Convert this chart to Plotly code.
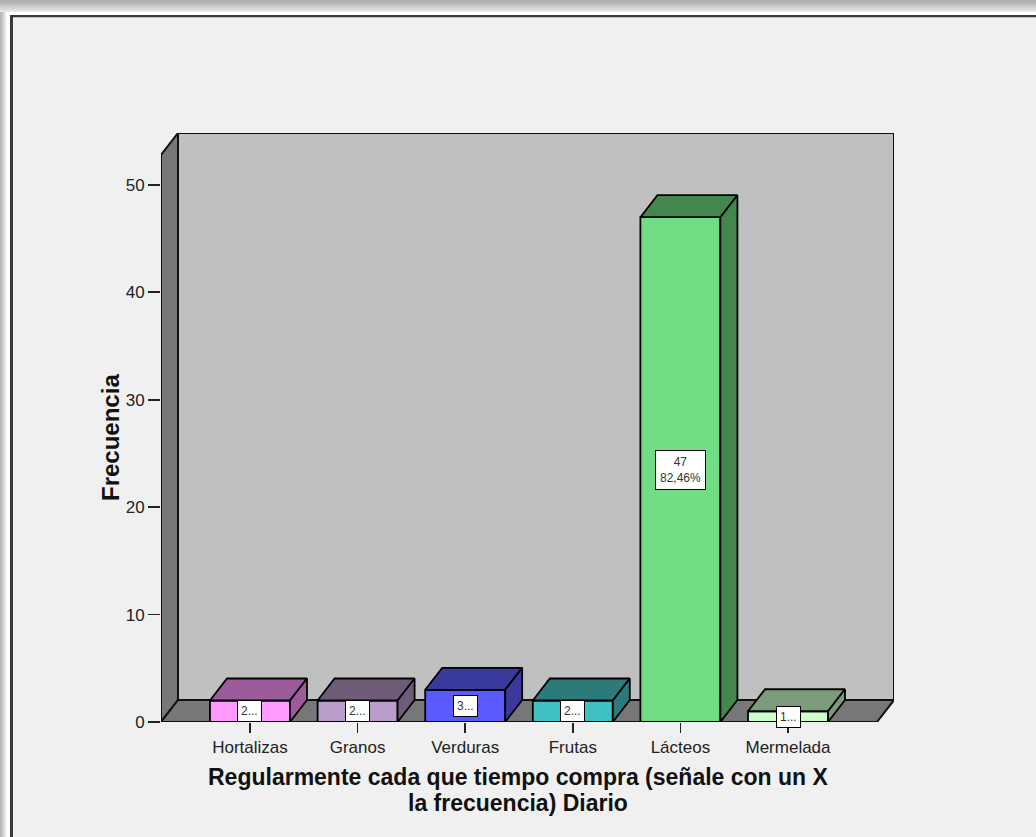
import plotly.graph_objects as go

categories = ["Hortalizas", "Granos", "Verduras", "Frutas", "Lácteos", "Mermelada"]
values = [2, 2, 3, 2, 47, 1]
front_colors = ["#FF99FF", "#B99CCB", "#5A5AFF", "#40C0C0", "#70DD85", "#CCFFCC"]
dark_colors = ["#9C5C9C", "#6E5C78", "#3A3A9C", "#2D7A7A", "#43874F", "#7A9C7A"]
y_ticks = [0, 10, 20, 30, 40, 50]
x_title_lines = ["Regularmente cada que tiempo compra (señale con un X", "la frecuencia) Diario"]
y_title = "Frecuencia"

W, H = 1036, 837
L, R, T, B = 161, 894, 133, 722          # plot area in pixels
X0, X1 = -0.827, 5.985                    # category-unit range
Y0, Y1 = 0, 54.84
DX = 17 / ((R - L) / (X1 - X0))          # depth in data units
DY = 22 / ((B - T) / (Y1 - Y0))
BW = 0.7435
FONT = "Liberation Sans, Arial, sans-serif"

total = sum(values)
xs = list(range(len(categories)))

fig = go.Figure()

# front faces
fig.add_trace(go.Bar(x=xs, y=values, width=BW,
                     marker=dict(color=front_colors, line=dict(color="black", width=1.8)),
                     hoverinfo="skip", showlegend=False))

# top and side faces
for i, v in enumerate(values):
    xl, xr = i - BW / 2, i + BW / 2
    top_x = [xl, xl + DX, xr + DX, xr, xl]
    top_y = [v, v + DY, v + DY, v, v]
    side_x = [xr, xr + DX, xr + DX, xr, xr]
    side_y = [0, DY, v + DY, v, 0]
    for px, py in ((top_x, top_y), (side_x, side_y)):
        fig.add_trace(go.Scatter(x=px, y=py, mode="lines", fill="toself", fillcolor=dark_colors[i],
                                 line=dict(color="black", width=1.8), hoverinfo="skip", showlegend=False))

def poly(pts):
    return "M " + " L ".join(f"{a},{b}" for a, b in pts) + " Z"

shapes = []
# page frame decoration
def pxr(x0, y0, x1, y1, color):
    return dict(type="rect", xref="paper", yref="paper", layer="below",
                x0=(x0 - L) / (R - L), x1=(x1 - L) / (R - L),
                y0=(B - y1) / (B - T), y1=(B - y0) / (B - T),
                fillcolor=color, line=dict(width=0))

# nested rects give a gradient shadow on top and left
top_grad = ["#EDEDED", "#E4E4E4", "#DBDBDB", "#D2D2D2", "#C9C9C9", "#C0C0C0", "#B8B8B8", "#B0B0B0"]
n = len(top_grad)
for k, c in enumerate(top_grad):
    shapes.append(pxr(0, 0, W, 13 - k * 12 / n, c))
left_grad = ["#E8E8E8", "#D8D8D8", "#C8C8C8", "#B8B8B8"]
for k, c in enumerate(left_grad):
    shapes.append(pxr(0, 12, 6 - k * 1.4, H, c))
shapes.append(pxr(6, 12, W, 15, "#FFFFFF"))
shapes.append(pxr(6, 12, 10, H, "#FFFFFF"))
shapes.append(pxr(10, 15, W, 17.5, "#3A3A3A"))
shapes.append(pxr(10, 15, 13, H, "#3A3A3A"))
shapes.append(pxr(13, 17.5, W, H, "#F0F0F0"))

# walls and floor
shapes.append(dict(type="path", xref="x", yref="y", layer="below",
                   path=poly([(X0 + DX, DY), (X1, DY), (X1, Y1), (X0 + DX, Y1)]),
                   fillcolor="#C0C0C0", line=dict(color="#111111", width=2)))
shapes.append(dict(type="path", xref="x", yref="y", layer="below",
                   path=poly([(X0, 0), (X0 + DX, DY), (X0 + DX, Y1), (X0, Y1 - DY)]),
                   fillcolor="#777777", line=dict(color="#111111", width=2)))
shapes.append(dict(type="path", xref="x", yref="y", layer="below",
                   path=poly([(X0, 0), (X1 - DX, 0), (X1, DY), (X0 + DX, DY)]),
                   fillcolor="#777777", line=dict(color="#111111", width=2)))

# value labels
annotations = []
for i, v in enumerate(values):
    if v >= 10:
        txt = f"{v}<br>{v / total * 100:.2f}%".replace(".", ",")
        pad = 4
    else:
        txt = f"{v}..."
        pad = 3
    annotations.append(dict(x=i, y=v / 2, xref="x", yref="y", text=txt, showarrow=False,
                            font=dict(family=FONT, size=12, color="#333333"),
                            bgcolor="white", bordercolor="black", borderwidth=1, borderpad=pad))

# axis titles
def py2paper(py):
    return (B - py) / (B - T)

def px2paper(px):
    return (px - L) / (R - L)

for line, yc in zip(x_title_lines, [777, 803]):
    annotations.append(dict(x=px2paper(518), y=py2paper(yc), xref="paper", yref="paper",
                            text=f"<b>{line}</b>", showarrow=False, xanchor="center", yanchor="middle",
                            font=dict(family=FONT, size=23, color="#111111")))
annotations.append(dict(x=px2paper(110), y=py2paper(438), xref="paper", yref="paper",
                        text=f"<b>{y_title}</b>", showarrow=False, textangle=-90,
                        xanchor="center", yanchor="middle",
                        font=dict(family=FONT, size=24, color="#111111")))

fig.update_layout(
    width=W, height=H,
    margin=dict(l=L, r=W - R, t=T, b=H - B, pad=0),
    paper_bgcolor="#F0F0F0", plot_bgcolor="rgba(0,0,0,0)",
    shapes=shapes, annotations=annotations, bargap=0,
    font=dict(family=FONT, color="#222222"),
    xaxis=dict(range=[X0, X1], tickmode="array", tickvals=xs, ticktext=categories, showgrid=False,
               zeroline=False, showline=False, ticks="outside", ticklen=10, tickwidth=1.8, tickcolor="#222222",
               tickfont=dict(size=17), fixedrange=True),
    yaxis=dict(range=[Y0, Y1], tickmode="array", tickvals=y_ticks, showgrid=False, zeroline=False,
               showline=False, ticks="outside", ticklen=12, tickwidth=1.8, tickcolor="#222222",
               tickfont=dict(size=17), fixedrange=True),
)

fig.write_html("out.html", config={"displayModeBar": False, "staticPlot": True},
               post_script="document.body.style.margin='0';document.body.style.overflow='hidden';")
